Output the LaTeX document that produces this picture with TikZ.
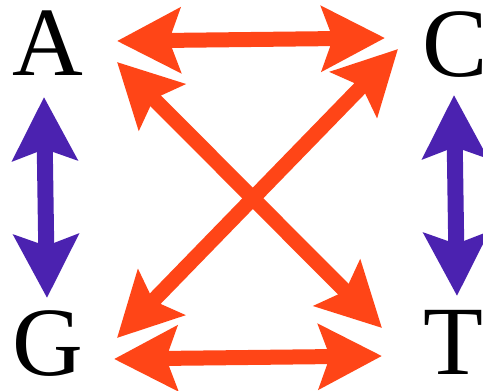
\documentclass[tikz,border=0pt]{standalone}
\usepackage{fontspec}
\setmainfont{Liberation Serif}
\usetikzlibrary{arrows.meta}
\definecolor{transvcol}{RGB}{255,69,23}
\definecolor{transicol}{RGB}{75,34,176}

\begin{document}
\begin{tikzpicture}[
    x=1pt, y=-1pt,
    letter/.style={font=\fontsize{98}{98}\selectfont, inner sep=0pt, anchor=base},
    tip/.style={Stealth[length=63pt, width=64pt, inset=11pt]},
    transversion/.style={{Stealth[length=63pt, width=64pt, inset=11pt]}-{Stealth[length=63pt, width=64pt, inset=11pt]}, line width=15pt, draw=transvcol},
    transition/.style={{Stealth[length=63pt, width=64pt, inset=11pt]}-{Stealth[length=63pt, width=64pt, inset=11pt]}, line width=16pt, draw=transicol}
]
\useasboundingbox (0,0) rectangle (483,391);

% Bases
\node[letter] (A) at (48,75) {A};
\node[letter] (C) at (455,76) {C};
\node[letter] (G) at (48,375) {G};
\node[letter] (T) at (453,374) {T};

% Arrow ends
\coordinate (A-r) at (117,41);
\coordinate (C-l) at (385,38);
\coordinate (G-r) at (114,359);
\coordinate (T-l) at (382,356);
\coordinate (A-d) at (117,62);
\coordinate (T-u) at (382,328);
\coordinate (C-d) at (398,49);
\coordinate (G-u) at (117,338);
\coordinate (A-b) at (44,97);
\coordinate (G-t) at (47,298);
\coordinate (C-b) at (454,95);
\coordinate (T-t) at (457,296);

% Transversions
\foreach \i/\j in {A-r/C-l, G-r/T-l, A-d/T-u, C-d/G-u}
  \draw[transversion] (\i) -- (\j);

% Transitions
\foreach \i/\j in {A-b/G-t, C-b/T-t}
  \draw[transition] (\i) -- (\j);

\end{tikzpicture}
\end{document}
